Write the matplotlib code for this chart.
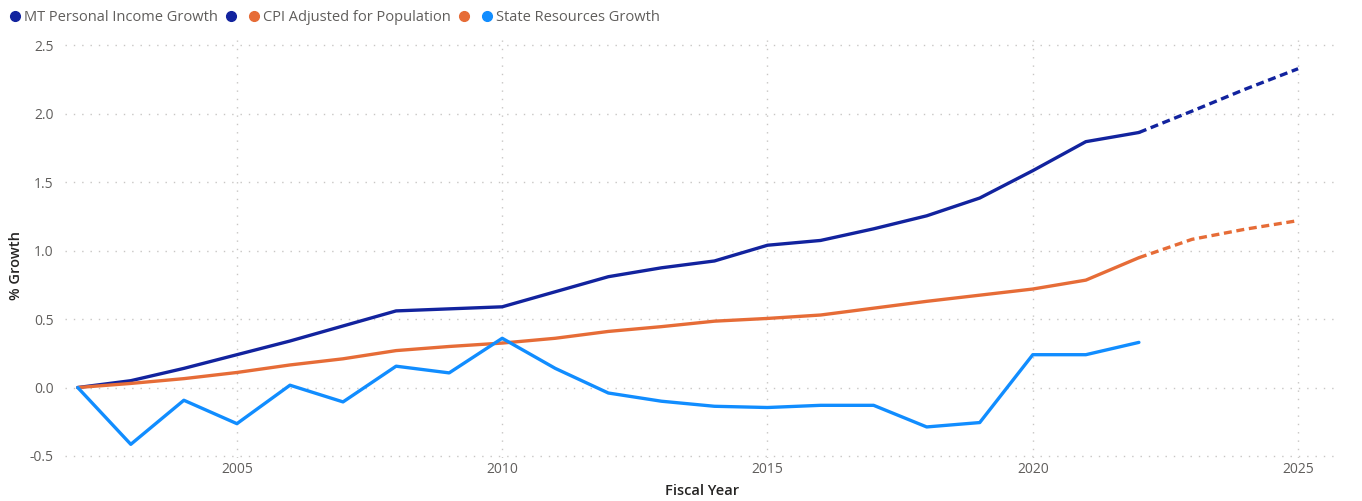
import matplotlib

matplotlib.use("Agg")
import matplotlib.pyplot as plt
from matplotlib.lines import Line2D

plt.rcParams["font.family"] = ["Open Sans", "DejaVu Sans"]

# actuals 2002-2022, forecast 2022-2025
years = list(range(2002, 2023))
fcst_years = [2022, 2023, 2024, 2025]

income = [0.0, 0.05, 0.14, 0.24, 0.34, 0.45, 0.56, 0.575, 0.59, 0.70, 0.81,
          0.875, 0.925, 1.04, 1.075, 1.16, 1.255, 1.385, 1.585, 1.797, 1.864]
income_fcst = [1.864, 2.02, 2.18, 2.33]

cpi = [0.0, 0.03, 0.065, 0.11, 0.165, 0.21, 0.27, 0.30, 0.325, 0.36, 0.41,
       0.445, 0.485, 0.505, 0.53, 0.58, 0.63, 0.675, 0.72, 0.785, 0.949]
cpi_fcst = [0.949, 1.083, 1.157, 1.22]

state = [0.0, -0.415, -0.093, -0.264, 0.017, -0.105, 0.156, 0.107, 0.36, 0.14, -0.04,
         -0.10, -0.137, -0.146, -0.13, -0.13, -0.288, -0.256, 0.24, 0.24, 0.33]

x_ticks = [2005, 2010, 2015, 2020, 2025]
y_ticks = [-0.5, 0.0, 0.5, 1.0, 1.5, 2.0, 2.5]

DARK = "#12239E"
ORANGE = "#E66C37"
LIGHT = "#118DFF"
TICK = "#605E5C"

W, H = 1362, 501
fig = plt.figure(figsize=(W / 100, H / 100), dpi=100)
ax = fig.add_axes([65 / W, 1 - 458 / H, (1340 - 65) / W, (458 - 40) / H])

lw = 2.4
dash = (0, (2.4, 1.4))
ax.plot(years, income, color=DARK, lw=lw, solid_capstyle="round", zorder=3)
ax.plot(fcst_years, income_fcst, color=DARK, lw=lw, ls=dash, zorder=3)
ax.plot(years, cpi, color=ORANGE, lw=lw, solid_capstyle="round", zorder=3)
ax.plot(fcst_years, cpi_fcst, color=ORANGE, lw=lw, ls=dash, zorder=3)
ax.plot(years, state, color=LIGHT, lw=lw, solid_capstyle="round", zorder=3)

ax.set_xlim(2001.76, 2025.79)
ax.set_ylim(-0.515, 2.54)
ax.set_xticks(x_ticks)
ax.set_yticks(y_ticks)
ax.set_yticklabels([f"{v:.1f}" for v in y_ticks])
ax.grid(True, color="#C8C6C4", ls=(0, (1, 5)), lw=1)
for s in ax.spines.values():
    s.set_visible(False)
ax.tick_params(axis="x", length=0, colors=TICK, labelsize=10, pad=3)
ax.tick_params(axis="y", length=0, colors=TICK, labelsize=10, pad=8)
ax.set_xlabel("Fiscal Year", fontsize=10.5, color="#252423", fontweight="semibold", labelpad=5)
ax.set_ylabel("% Growth", fontsize=10.5, color="#252423", fontweight="semibold")
ax.yaxis.set_label_coords(-0.033, 0.46)

handles = [Line2D([], [], ls="", marker="o", ms=7, color=c)
           for c in [DARK, DARK, ORANGE, ORANGE, LIGHT]]
labels = ["MT Personal Income Growth", "", "CPI Adjusted for Population", "", "State Resources Growth"]
fig.legend(handles, labels, loc="upper left", bbox_to_anchor=(0.0, 1.0), ncol=5, frameon=False,
           handlelength=0.6, handletextpad=0.35, columnspacing=0.6, fontsize=10.5,
           labelcolor=TICK, borderaxespad=0.3)

fig.savefig("out.png", dpi=100, facecolor="white")
